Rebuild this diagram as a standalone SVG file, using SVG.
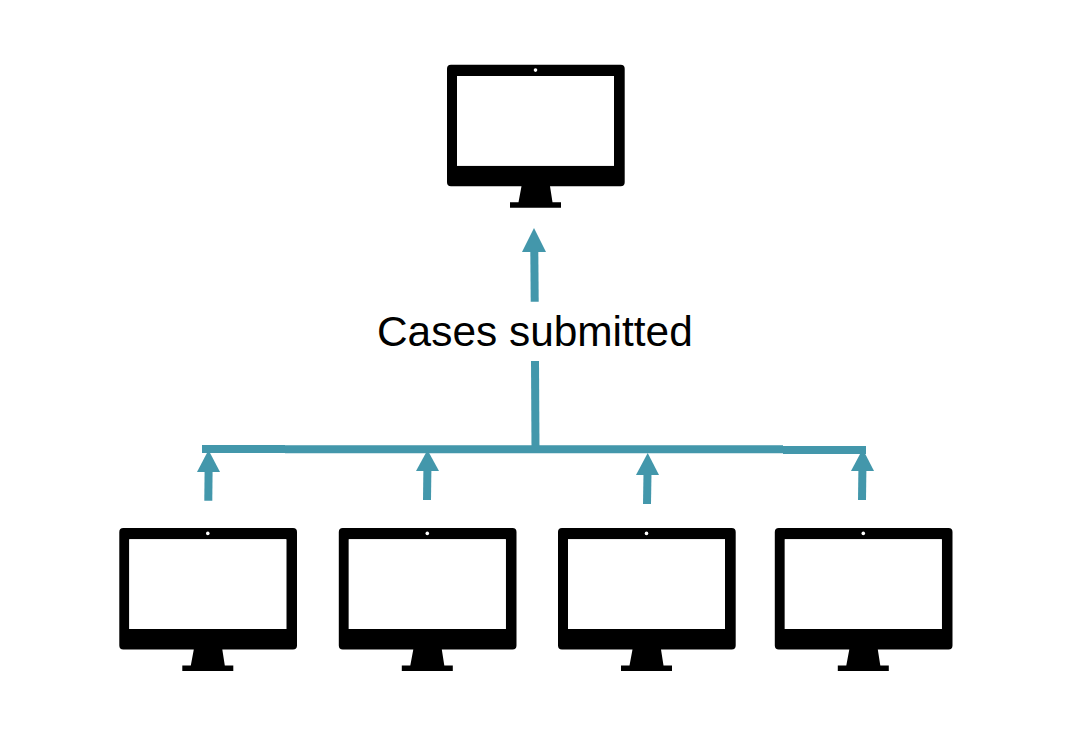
<svg xmlns="http://www.w3.org/2000/svg" xmlns:xlink="http://www.w3.org/1999/xlink" width="1066" height="752" viewBox="0 0 1066 752">
<style>
.line{fill:none;stroke:#4397ab;stroke-width:8}
.head{fill:#4397ab}
.label{font-family:"Liberation Sans",Arial,sans-serif;font-size:42.400px;fill:#000}
</style>
<defs>
<symbol id="monitor" overflow="visible" width="178" height="144" viewBox="0 0 178 144">
<path fill="#000" fill-rule="evenodd" d="M4 0H173.700A4 4 0 0 1 177.700 4V117.500A4 4 0 0 1 173.700 121.500H103L105.500 137.500H114V143H63V137.500H71.500L74.500 121.500H4A4 4 0 0 1 0 117.500V4A4 4 0 0 1 4 0ZM10 11.300V101H167V11.300Z"/>
<rect x="10" y="11.300" width="157" height="89.700" fill="#fff"/>
<circle cx="88.500" cy="5.400" r="1.800" fill="#fff"/>
</symbol>
</defs>
<rect width="1066" height="752" fill="#fff"/>
<g id="connectors">
<path class="line" d="M202 449 H285 M285 449.300 H783 M783 450 H866"/>
<path class="line" d="M535 361 L535.500 449"/>
<path class="line" d="M534.700 301.700 L534.300 250"/>
<polygon class="head" points="534,228 546,252 522,252"/>
<path class="line" d="M208.300 500.700 L208.600 470"/>
<polygon class="head" points="208.500,450 220,472 197,472"/>
<path class="line" d="M427 500 L427.400 469"/>
<polygon class="head" points="427.500,450 439,471 416,471"/>
<path class="line" d="M647 504 L647.500 473"/>
<polygon class="head" points="647.700,453 659,475 636,475"/>
<path class="line" d="M862 500 L862.400 469"/>
<polygon class="head" points="862.700,449 874,471 851,471"/>
</g>
<g id="server"><use xlink:href="#monitor" href="#monitor" x="447" y="64.700" width="178" height="144"/></g>
<g id="client-1"><use xlink:href="#monitor" href="#monitor" x="119.300" y="528" width="178" height="144"/></g>
<g id="client-2"><use xlink:href="#monitor" href="#monitor" x="338.800" y="528" width="178" height="144"/></g>
<g id="client-3"><use xlink:href="#monitor" href="#monitor" x="558" y="528" width="178" height="144"/></g>
<g id="client-4"><use xlink:href="#monitor" href="#monitor" x="774.800" y="528" width="178" height="144"/></g>
<text id="label" class="label" x="377" y="345.500">Cases submitted</text>
</svg>
